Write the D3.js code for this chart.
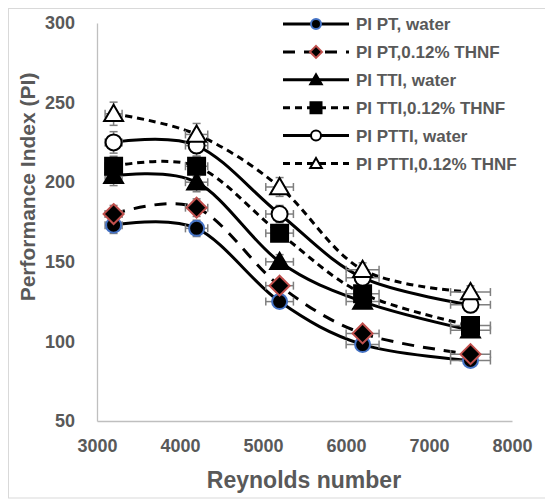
<!DOCTYPE html>
<html>
<head>
<meta charset="utf-8">
<script src="https://cdn.jsdelivr.net/npm/d3@7"></script>
<style>
  html, body { margin: 0; padding: 0; background: #fff; }
  svg { display: block; }
  text { font-family: "Liberation Sans", Arial, sans-serif; font-weight: bold; fill: #595959; }
</style>
</head>
<body>
<svg id="chart" width="545" height="500"></svg>
<script>
// ---- data ----
const reynolds = [3200, 4200, 5200, 6200, 7500];
const ptWater   = [173, 171, 125, 98, 88];
const ptThnf    = [180, 184, 135, 105, 92];
const ttiWater  = [204, 200, 150, 125, 107];
const ttiThnf   = [210, 210, 168, 130, 110];
const pttiWater = [225, 223, 180, 140, 123];
const pttiThnf  = [243, 230, 197, 145, 131];
const seriesNames = ["PI PT, water", "PI PT,0.12% THNF", "PI TTI, water",
                     "PI TTI,0.12% THNF", "PI PTTI, water", "PI PTTI,0.12% THNF"];
const xTicks = [3000, 4000, 5000, 6000, 7000, 8000];
const yTicks = [50, 100, 150, 200, 250, 300];
const xErrFrac = 0.032;
const yErrFrac = 0.03;

// ---- styles (kept separate from data) ----
const styles = [
  {dash: null,   marker: "circle",   fill: "#000", stroke: "#4472c4", size: 7.5},
  {dash: "12,9", marker: "diamond",  fill: "#000", stroke: "#c0504d", size: 10},
  {dash: null,   marker: "triangle", fill: "#000", stroke: "#000",    size: 9},
  {dash: "7,5",  marker: "square",   fill: "#000", stroke: "#000",    size: 8.5},
  {dash: null,   marker: "circle",   fill: "#fff", stroke: "#000",    size: 8},
  {dash: "7,5",  marker: "triangle", fill: "#fff", stroke: "#000",    size: 9}
];
const allValues = [ptWater, ptThnf, ttiWater, ttiThnf, pttiWater, pttiThnf];

const svg = d3.select("#chart");

// outer border
svg.append("rect").attr("x", 8.5).attr("y", 8.5).attr("width", 545).attr("height", 489.5)
  .attr("fill", "none").attr("stroke", "#d9d9d9").attr("stroke-width", 1);

const x = d3.scaleLinear().domain([3000, 8000]).range([97, 512]);
const y = d3.scaleLinear().domain([50, 300]).range([421, 23]);

// axes
const xAxis = svg.append("g").attr("transform", `translate(0,${y(50)})`)
  .call(d3.axisBottom(x).tickValues(xTicks).tickSize(0).tickPadding(18).tickFormat(d3.format("d")));
xAxis.select(".domain").attr("stroke", "#bfbfbf").attr("stroke-width", 1.3);
xAxis.selectAll("text").style("font-size", "18px").attr("fill", "#595959")
  .style("font-family", "'Liberation Sans', Arial, sans-serif").style("font-weight", "bold");

const yAxis = svg.append("g").attr("transform", `translate(${x(3000)},0)`)
  .call(d3.axisLeft(y).tickValues(yTicks).tickSize(0).tickPadding(22));
yAxis.select(".domain").attr("stroke", "#bfbfbf").attr("stroke-width", 1.3);
yAxis.selectAll("text").style("font-size", "18px").attr("fill", "#595959")
  .style("font-family", "'Liberation Sans', Arial, sans-serif").style("font-weight", "bold");

// axis titles
svg.append("text").attr("x", 304).attr("y", 488).attr("text-anchor", "middle")
  .style("font-size", "23px").text("Reynolds number");
svg.append("text").attr("transform", "translate(35,187) rotate(-90)").attr("text-anchor", "middle")
  .style("font-size", "21px").text("Performance Index (PI)");

// marker path generator
function markerPath(type, s) {
  if (type === "diamond") return `M0,${-s}L${s},0L0,${s}L${-s},0Z`;
  if (type === "triangle") return `M0,${-s}L${s*1.05},${s*0.8}L${-s*1.05},${s*0.8}Z`;
  if (type === "square") return `M${-s},${-s}H${s}V${s}H${-s}Z`;
  return null;
}
function drawMarker(g, st, cx, cy) {
  if (st.marker === "circle") {
    g.append("circle").attr("cx", cx).attr("cy", cy).attr("r", st.size)
      .attr("fill", st.fill).attr("stroke", st.stroke).attr("stroke-width", 2);
  } else {
    g.append("path").attr("d", markerPath(st.marker, st.size))
      .attr("transform", `translate(${cx},${cy})`)
      .attr("fill", st.fill).attr("stroke", st.stroke).attr("stroke-width", 2);
  }
}

const line = d3.line().x(d => x(d[0])).y(d => y(d[1])).curve(d3.curveCatmullRom.alpha(0));

const plot = svg.append("g");
allValues.forEach((vals, i) => {
  const st = styles[i];
  const pts = reynolds.map((r, j) => [r, vals[j]]);
  plot.append("path").datum(pts).attr("d", line).attr("fill", "none")
    .attr("stroke", "#000").attr("stroke-width", 3)
    .attr("stroke-dasharray", st.dash);
});

// error bars
const eb = svg.append("g").attr("stroke", "#7f7f7f").attr("stroke-width", 1.5).attr("fill", "none");
allValues.forEach((vals) => {
  reynolds.forEach((r, j) => {
    const v = vals[j];
    const cx = x(r), cy = y(v);
    const x0 = x(r * (1 - xErrFrac)), x1 = x(r * (1 + xErrFrac));
    const y0 = y(v * (1 - yErrFrac)), y1 = y(v * (1 + yErrFrac));
    eb.append("line").attr("x1", x0).attr("x2", x1).attr("y1", cy).attr("y2", cy);
    eb.append("line").attr("x1", x0).attr("x2", x0).attr("y1", cy - 4).attr("y2", cy + 4);
    eb.append("line").attr("x1", x1).attr("x2", x1).attr("y1", cy - 4).attr("y2", cy + 4);
    eb.append("line").attr("x1", cx).attr("x2", cx).attr("y1", y0).attr("y2", y1);
    eb.append("line").attr("x1", cx - 4).attr("x2", cx + 4).attr("y1", y0).attr("y2", y0);
    eb.append("line").attr("x1", cx - 4).attr("x2", cx + 4).attr("y1", y1).attr("y2", y1);
  });
});

// markers
const mk = svg.append("g");
allValues.forEach((vals, i) => {
  reynolds.forEach((r, j) => drawMarker(mk, styles[i], x(r), y(vals[j])));
});

// legend
const leg = svg.append("g");
seriesNames.forEach((name, i) => {
  const st = styles[i];
  const ly = 24 + i * 27.9;
  leg.append("line").attr("x1", 283).attr("x2", 349).attr("y1", ly).attr("y2", ly)
    .attr("stroke", "#000").attr("stroke-width", 3).attr("stroke-dasharray", st.dash);
  const small = Object.assign({}, st, {size: st.marker === "diamond" ? 6 : st.marker === "circle" ? 5 : 5.5});
  drawMarker(leg, small, 316, ly);
  leg.append("text").attr("x", 356).attr("y", ly + 6).style("font-size", "17px").text(name);
});
</script>
</body>
</html>
